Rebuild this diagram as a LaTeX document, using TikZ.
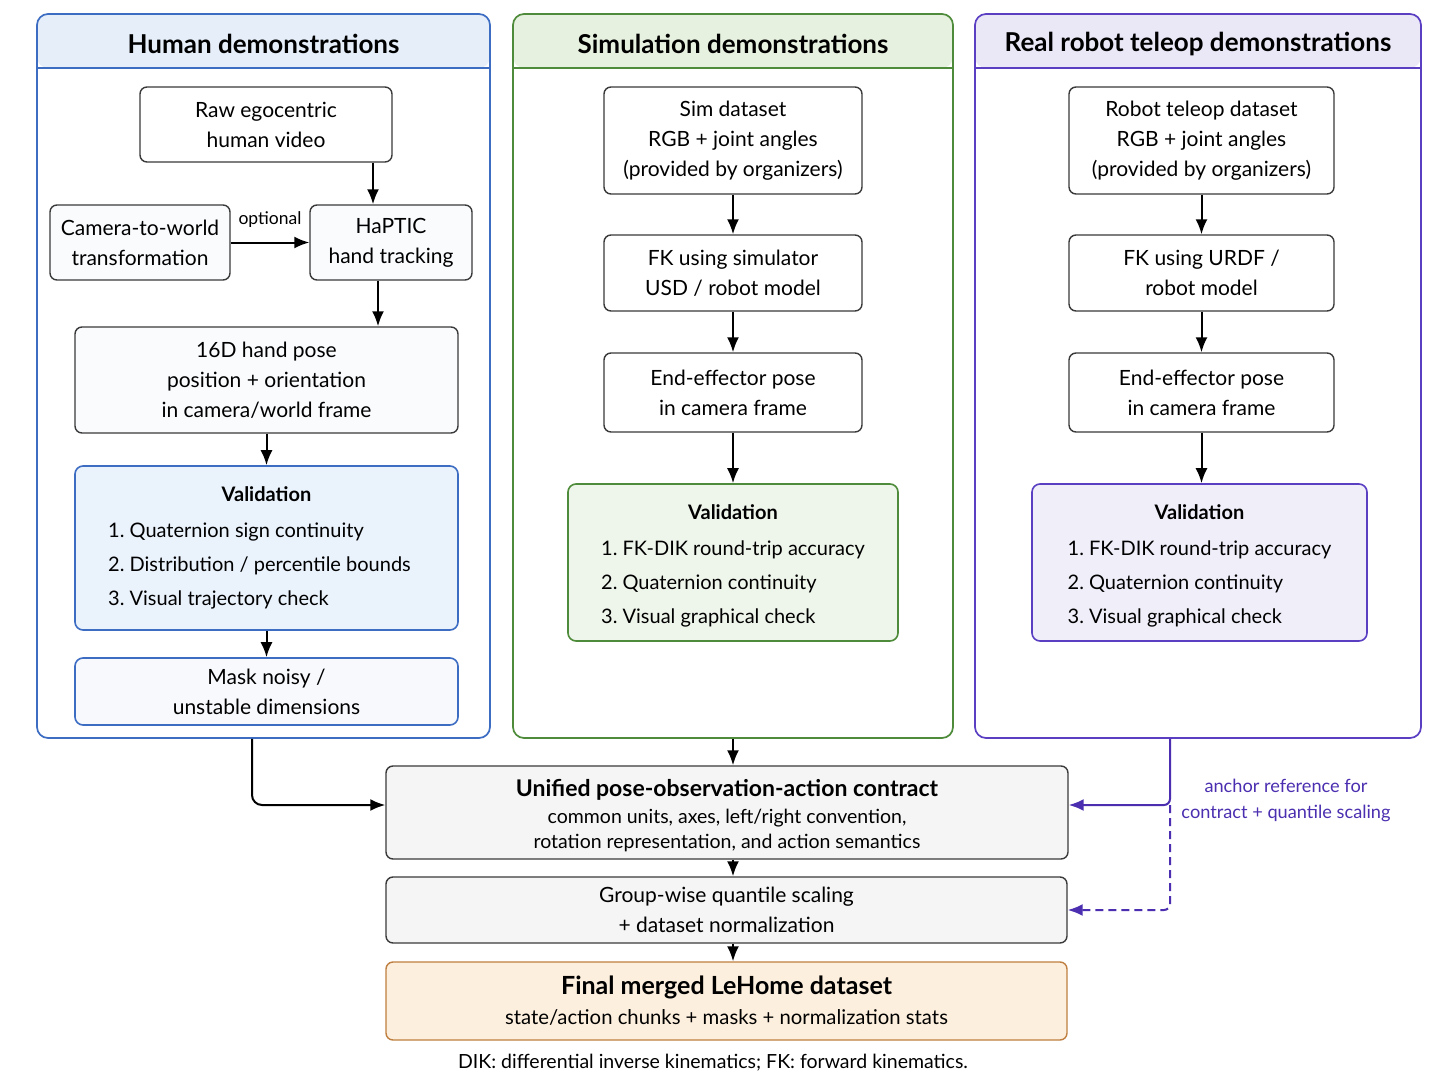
\documentclass[tikz,border=0pt]{standalone}
\usepackage{fontspec}
\setmainfont{Lato}
\usetikzlibrary{arrows.meta, positioning}
\definecolor{humanblue}{HTML}{3D6DC2}
\definecolor{humanhead}{HTML}{E5EEF9}
\definecolor{humanfill}{HTML}{EAF2FC}
\definecolor{simgreen}{HTML}{4E8B3A}
\definecolor{simhead}{HTML}{E7F1DF}
\definecolor{simfill}{HTML}{EEF5EA}
\definecolor{robotpurple}{HTML}{5B3FC2}
\definecolor{robothead}{HTML}{EAE8F7}
\definecolor{robotfill}{HTML}{EFEEF9}
\definecolor{anchorpurple}{HTML}{4B2FB0}
\definecolor{boxline}{HTML}{3A3A3A}
\definecolor{mergefill}{HTML}{F5F5F5}
\definecolor{finalline}{HTML}{BF7F40}
\definecolor{finalfill}{HTML}{FDEFDD}
\newcommand{\boxfont}{\fontsize{21}{30}\selectfont}
\newcommand{\smallfont}{\fontsize{17.5}{26}\selectfont}
\newcommand{\notefont}{\fontsize{19.5}{25}\selectfont}
\newcommand{\checklist}[3]{\textbf{Validation}\\[6pt]
  \fontsize{20}{30}\selectfont
  \begin{tabular}[t]{@{}l@{}}1.~#1\\[4pt]2.~#2\\[4pt]3.~#3\end{tabular}}

\begin{document}
\begin{tikzpicture}[x=1pt, y=-1pt, >={Latex[length=15pt, width=12pt]},
  font=\boxfont,
  stepbox/.style={draw=boxline, line width=1.4pt, rounded corners=7pt,
    fill=white, align=center},
  valbox/.style={draw=#1, line width=1.6pt, rounded corners=8pt, align=center,
    font=\fontsize{20}{30}\selectfont},
  flow/.style={->, line width=2pt},
  paneltitle/.style={font=\fontsize{26}{30}\selectfont\bfseries},
]
  \path[use as bounding box, fill=white] (0,0) rectangle (1448,1086);

  % the three source panels
  \node[draw=humanblue, line width=1.7pt, rounded corners=11pt,
    minimum width=453pt, minimum height=724pt,
    path picture={\fill[humanhead] (path picture bounding box.north west)
      rectangle ([yshift=-54pt]path picture bounding box.north east);
      \draw[humanblue, line width=1.7pt] ([yshift=-54pt]path picture bounding box.north west)
      -- ([yshift=-54pt]path picture bounding box.north east);}]
    (human) at (263.5,376) {};
  \node[draw=simgreen, line width=1.7pt, rounded corners=11pt,
    minimum width=440pt, minimum height=724pt,
    path picture={\fill[simhead] (path picture bounding box.north west)
      rectangle ([yshift=-54pt]path picture bounding box.north east);
      \draw[simgreen, line width=1.7pt] ([yshift=-54pt]path picture bounding box.north west)
      -- ([yshift=-54pt]path picture bounding box.north east);}]
    (sim) at (733,376) {};
  \node[draw=robotpurple, line width=1.7pt, rounded corners=11pt,
    minimum width=446pt, minimum height=724pt,
    path picture={\fill[robothead] (path picture bounding box.north west)
      rectangle ([yshift=-54pt]path picture bounding box.north east);
      \draw[robotpurple, line width=1.7pt] ([yshift=-54pt]path picture bounding box.north west)
      -- ([yshift=-54pt]path picture bounding box.north east);}]
    (robot) at (1198,376) {};
  \node[paneltitle] (htitle) at ([yshift=-30.5pt]human.north) {Human demonstrations};
  \node[paneltitle] (stitle) at ([yshift=-30.5pt]sim.north) {Simulation demonstrations};
  \node[paneltitle] (rtitle) at ([yshift=-30.5pt]robot.north) {Real robot teleop demonstrations};

  % human column
  \node[stepbox, minimum width=252pt, minimum height=75pt] (raw) at (266,124.5)
    {Raw egocentric\\human video};
  \node[stepbox, fill=humanblue!3, minimum width=180pt, minimum height=75pt] (cam) at (140,242.5)
    {Camera-to-world\\transformation};
  \node[stepbox, fill=humanblue!3, minimum width=162pt, minimum height=75pt] (hap) at (391,242.5)
    {HaPTIC\\hand tracking};
  \node[stepbox, fill=humanblue!3, minimum width=383pt, minimum height=106pt] (pose) at (266.5,380)
    {16D hand pose\\position + orientation\\in camera/world frame};
  \node[valbox=humanblue, fill=humanfill, minimum width=383pt, minimum height=164pt] (hval) at (266.5,548)
    {\rule{0pt}{20pt}\checklist{Quaternion sign continuity}{Distribution / percentile bounds}{Visual trajectory check}\hspace*{14pt}};
  \node[valbox=humanblue, fill=humanblue!4, minimum width=383pt, minimum height=67pt,
    font=\boxfont] (mask) at (266.5,691.5)
    {Mask noisy /\\unstable dimensions};

  \draw[flow] ([xshift=107pt]raw.south) -- ([xshift=107pt]raw.south |- hap.north);
  \draw[flow] (cam) -- (hap) node[midway, above=11pt, font=\smallfont] (opt) {optional};
  \draw[flow] ([xshift=-13pt]hap.south) -- ([xshift=-13pt]hap.south |- pose.north);
  \draw[flow] (pose) -- (hval);
  \draw[flow] (hval) -- (mask);

  % simulation column
  \node[stepbox, minimum width=258pt, minimum height=107pt] (sdata) at (733,140.5)
    {Sim dataset\\RGB + joint angles\\(provided by organizers)};
  \node[stepbox, minimum width=258pt, minimum height=76pt] (sfk) at (733,273)
    {FK using simulator\\USD / robot model};
  \node[stepbox, minimum width=258pt, minimum height=79pt] (see) at (733,392.5)
    {End-effector pose\\in camera frame};
  \node[valbox=simgreen, fill=simfill, minimum width=330pt, minimum height=157pt] (sval) at (733,562.5)
    {\rule{0pt}{26pt}\checklist{FK-DIK round-trip accuracy}{Quaternion continuity}{Visual graphical check}};

  \draw[flow] (sdata) -- (sfk);
  \draw[flow] (sfk) -- (see);
  \draw[flow] (see) -- (sval);

  % real robot column
  \node[stepbox, minimum width=265pt, minimum height=107pt] (rdata) at (1201.5,140.5)
    {Robot teleop dataset\\RGB + joint angles\\(provided by organizers)};
  \node[stepbox, minimum width=265pt, minimum height=76pt] (rfk) at (1201.5,273)
    {FK using URDF /\\robot model};
  \node[stepbox, minimum width=265pt, minimum height=79pt] (ree) at (1201.5,392.5)
    {End-effector pose\\in camera frame};
  \node[valbox=robotpurple, fill=robotfill, minimum width=335pt, minimum height=157pt] (rval) at (1199.5,562.5)
    {\rule{0pt}{26pt}\checklist{FK-DIK round-trip accuracy}{Quaternion continuity}{Visual graphical check}};

  \draw[flow] (rdata) -- (rfk);
  \draw[flow] (rfk) -- (ree);
  \draw[flow] (ree) -- (ree |- rval.north);

  % merge stages
  \node[stepbox, fill=mergefill, minimum width=682pt, minimum height=93pt, font=\notefont] (unified) at (727,812.5)
    {{\fontsize{23}{26}\selectfont\bfseries\rule{0pt}{24pt}Unified pose-observation-action contract}\\[2pt]
     common units, axes, left/right convention,\\
     rotation representation, and action semantics};
  \node[stepbox, fill=mergefill, minimum width=681pt, minimum height=66pt] (group) at (726.5,910)
    {Group-wise quantile scaling\\+ dataset normalization};
  \node[stepbox, draw=finalline, fill=finalfill, minimum width=681pt, minimum height=78pt,
    font=\fontsize{20.3}{25}\selectfont] (final) at (726.5,1001)
    {{\fontsize{25}{28}\selectfont\bfseries Final merged LeHome dataset}\\[5pt]
     state/action chunks + masks + normalization stats};
  \node[font=\notefont] (note) at (713,1063)
    {DIK: differential inverse kinematics; FK: forward kinematics.};

  \draw[flow] (sim.south) -- (sim.south |- unified.north);
  \draw[flow] (sim.south |- unified.south) -- (sim.south |- group.north);
  \draw[flow] (sim.south |- group.south) -- (sim.south |- final.north);
  \draw[flow, rounded corners=10pt] ([xshift=-11.5pt]human.south) |- ([yshift=7.5pt]unified.west);

  % anchor from the real robot data
  \coordinate (rjoin) at ([xshift=-28pt]robot.south);
  \draw[flow, anchorpurple, rounded corners=6pt] (rjoin) |- ([yshift=7.5pt]unified.east);
  \draw[flow, anchorpurple, dashed, dash pattern=on 8pt off 5pt, rounded corners=6pt]
    ([yshift=7.5pt]rjoin |- unified.east) |- (group.east);
  \node[font=\fontsize{18.2}{26}\selectfont, text=anchorpurple, align=center] (anchornote) at (1286,800)
    {anchor reference for\\contract + quantile scaling};
\end{tikzpicture}
\end{document}
